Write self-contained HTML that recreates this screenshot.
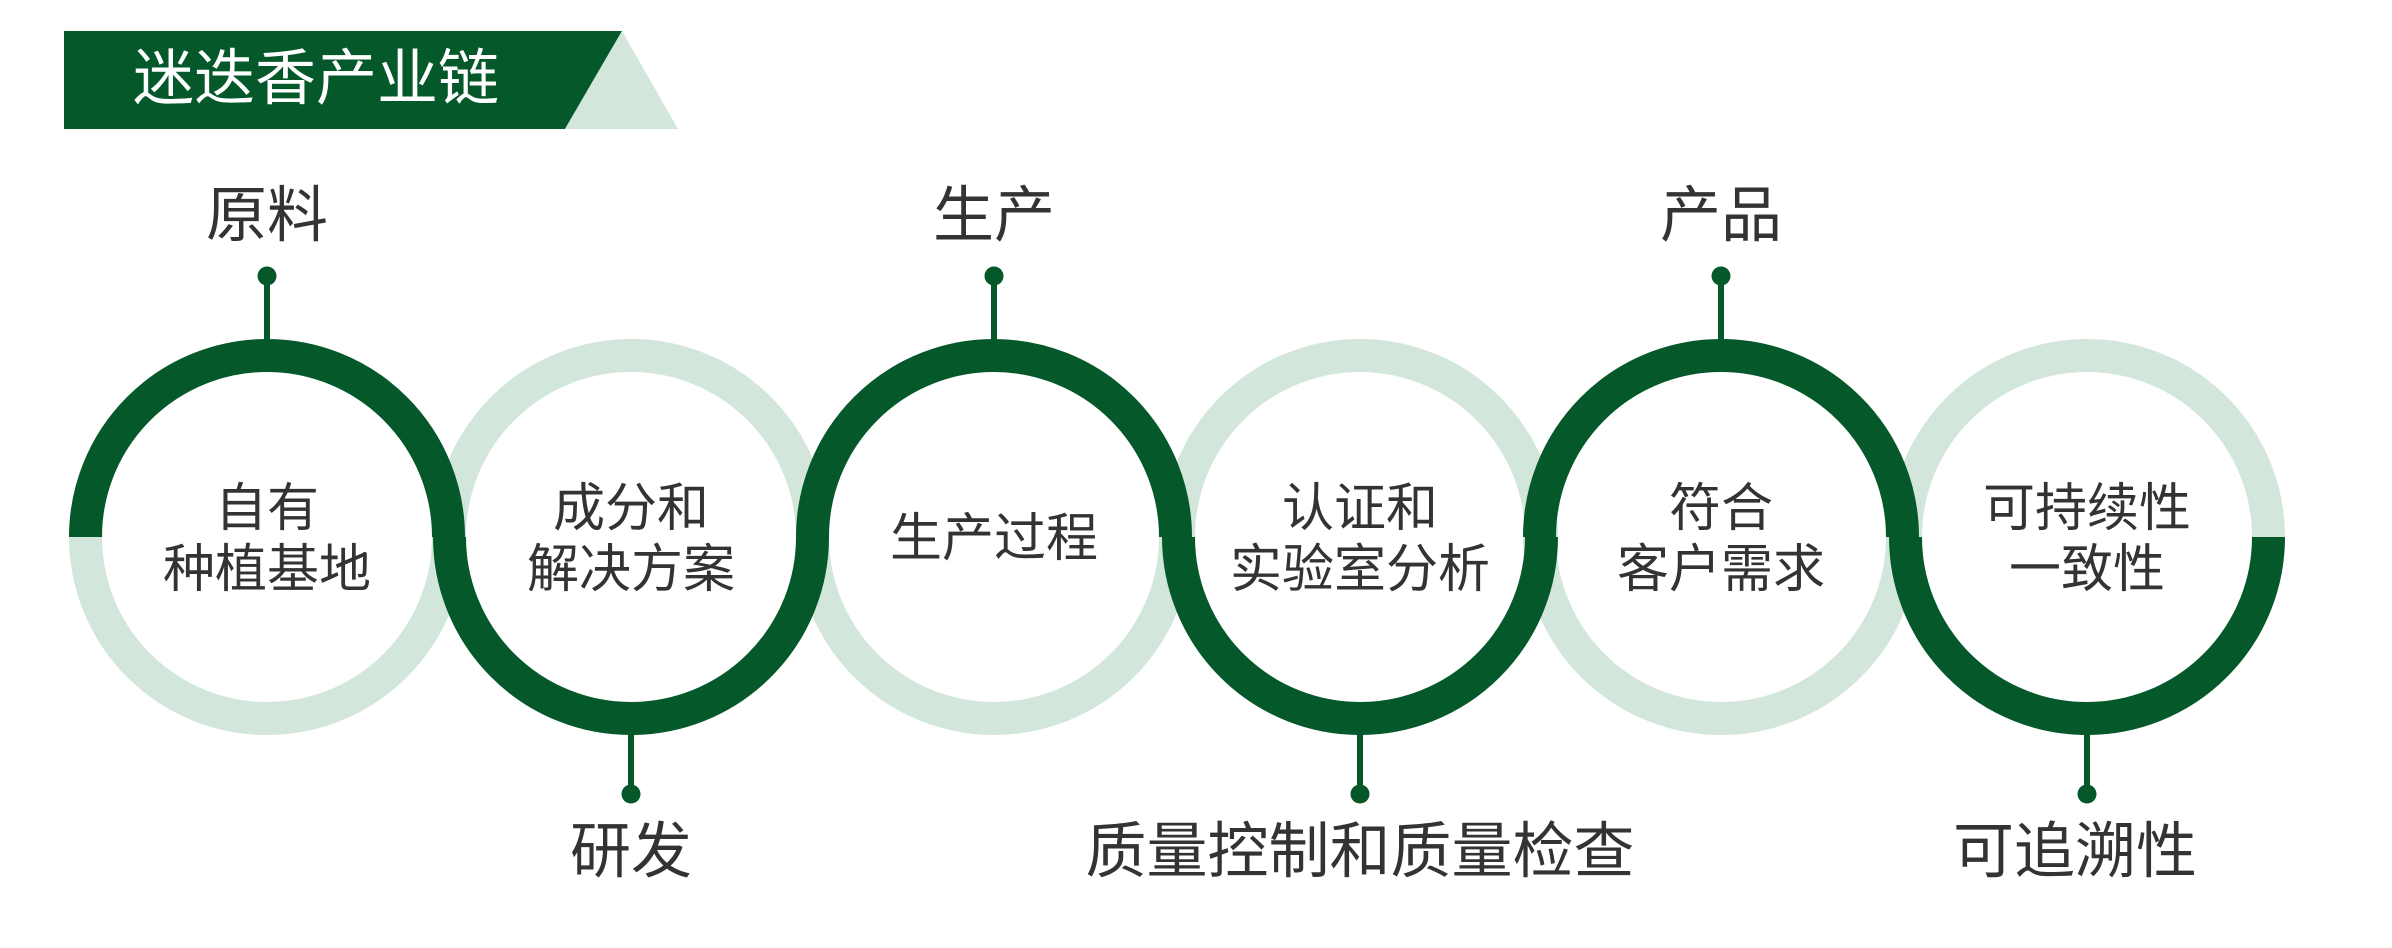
<!DOCTYPE html>
<html><head><meta charset="utf-8"><style>
html,body{margin:0;padding:0;background:#fff;}
svg{display:block;}
text{font-family:"Liberation Sans","Noto Sans CJK SC",sans-serif;}
</style></head><body>
<svg width="2392" height="948" viewBox="0 0 2392 948" xmlns="http://www.w3.org/2000/svg">
<polygon points="64,31 622,31 565,129 64,129" fill="#04582A"/>
<polygon points="622,31 678,129 565,129" fill="#D2E6DB"/>
<text x="133" y="99" font-size="61" fill="#fff">迷迭香产业链</text>

<g fill="none" stroke-width="33">
<path d="M85.5,537 A181.5,181.5 0 0 0 448.5,537" stroke="#D2E6DB"/>
<path d="M449.5,537 A181.5,181.5 0 0 1 812.5,537" stroke="#D2E6DB"/>
<path d="M812.5,537 A181.5,181.5 0 0 0 1175.5,537" stroke="#D2E6DB"/>
<path d="M1178.5,537 A181.5,181.5 0 0 1 1541.5,537" stroke="#D2E6DB"/>
<path d="M1539.5,537 A181.5,181.5 0 0 0 1902.5,537" stroke="#D2E6DB"/>
<path d="M1905.5,537 A181.5,181.5 0 0 1 2268.5,537" stroke="#D2E6DB"/>
<path d="M85.5,537 A181.5,181.5 0 0 1 448.5,537" stroke="#04582A"/>
<path d="M449.5,537 A181.5,181.5 0 0 0 812.5,537" stroke="#04582A"/>
<path d="M812.5,537 A181.5,181.5 0 0 1 1175.5,537" stroke="#04582A"/>
<path d="M1178.5,537 A181.5,181.5 0 0 0 1541.5,537" stroke="#04582A"/>
<path d="M1539.5,537 A181.5,181.5 0 0 1 1902.5,537" stroke="#04582A"/>
<path d="M1905.5,537 A181.5,181.5 0 0 0 2268.5,537" stroke="#04582A"/>
</g>

<g stroke="#04582A" stroke-width="6" fill="#04582A">
<line x1="267" y1="276" x2="267" y2="342"/><circle cx="267" cy="276" r="9.5" stroke="none"/>
<line x1="994" y1="276" x2="994" y2="342"/><circle cx="994" cy="276" r="9.5" stroke="none"/>
<line x1="1721" y1="276" x2="1721" y2="342"/><circle cx="1721" cy="276" r="9.5" stroke="none"/>
<line x1="631" y1="732" x2="631" y2="794"/><circle cx="631" cy="794" r="9.5" stroke="none"/>
<line x1="1360" y1="732" x2="1360" y2="794"/><circle cx="1360" cy="794" r="9.5" stroke="none"/>
<line x1="2087" y1="732" x2="2087" y2="794"/><circle cx="2087" cy="794" r="9.5" stroke="none"/>
</g>

<g fill="#333" font-size="61" text-anchor="middle">
<text x="267" y="236">原料</text>
<text x="994" y="236">生产</text>
<text x="1721" y="236">产品</text>
<text x="631" y="872">研发</text>
<text x="1360" y="872">质量控制和质量检查</text>
<text x="2075" y="872">可追溯性</text>
</g>

<g fill="#333" font-size="52" text-anchor="middle">
<text x="267" y="526">自有</text><text x="267" y="587">种植基地</text>
<text x="631" y="526">成分和</text><text x="631" y="587">解决方案</text>
<text x="994" y="556">生产过程</text>
<text x="1360" y="526">认证和</text><text x="1360" y="587">实验室分析</text>
<text x="1721" y="526">符合</text><text x="1721" y="587">客户需求</text>
<text x="2087" y="526">可持续性</text><text x="2087" y="587">一致性</text>
</g>
</svg>
</body></html>
